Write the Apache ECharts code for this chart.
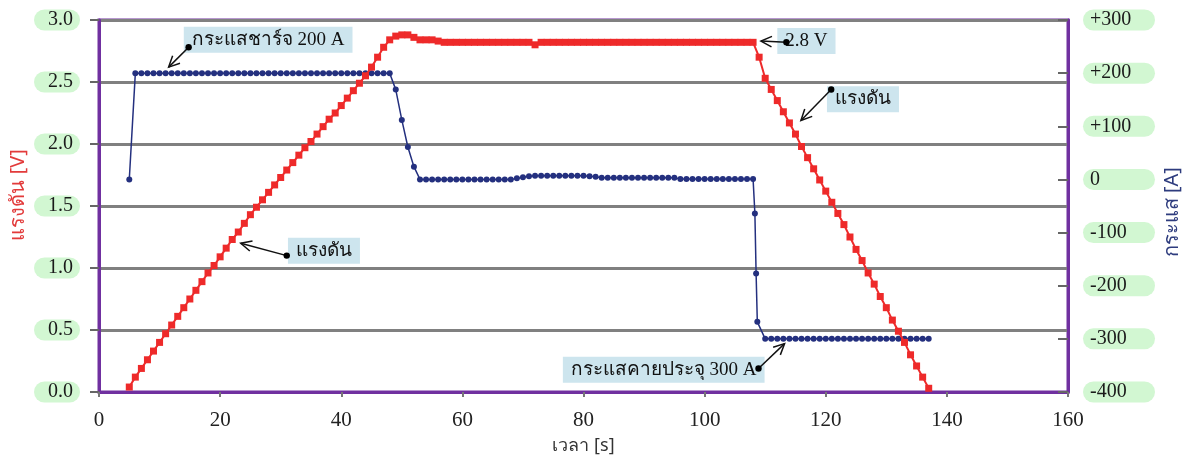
<!DOCTYPE html>
<html><head><meta charset="utf-8">
<script src="https://cdn.jsdelivr.net/npm/echarts@6/dist/echarts.min.js"></script>
<style>html,body{margin:0;padding:0;background:#fff}#c{width:1187px;height:459px}</style>
</head><body><div id="c"></div>
<script>
// ---------------- DATA ----------------
const voltTime = [5,6,7,8,9,10,11,12,13,14,15,16,17,18,19,20,21,22,23,24,25,26,27,28,29,30,31,32,33,34,35,36,37,38,39,40,41,42,43,44,45,46,47,48,49,50,51,52,53,54,55,56,57,58,59,60,61,62,63,64,65,66,67,68,69,70,71,72,73,74,75,76,77,78,79,80,81,82,83,84,85,86,87,88,89,90,91,92,93,94,95,96,97,98,99,100,101,102,103,104,105,106,107,108,109,110,111,112,113,114,115,116,117,118,119,120,121,122,123,124,125,126,127,128,129,130,131,132,133,134,135,136,137];
const voltage = [0.04,0.12,0.19,0.26,0.33,0.40,0.47,0.54,0.61,0.68,0.75,0.82,0.89,0.96,1.02,1.09,1.16,1.23,1.29,1.36,1.43,1.49,1.55,1.61,1.67,1.73,1.79,1.85,1.91,1.97,2.02,2.08,2.14,2.20,2.25,2.31,2.37,2.43,2.49,2.55,2.62,2.70,2.78,2.84,2.87,2.88,2.88,2.86,2.84,2.84,2.84,2.83,
2.82,2.82,2.82,2.82,2.82,2.82,2.82,2.82,2.82,2.82,2.82,2.82,2.82,2.82,2.82,
2.80,
2.82,2.82,2.82,2.82,2.82,2.82,2.82,2.82,2.82,2.82,2.82,2.82,2.82,2.82,2.82,2.82,2.82,2.82,2.82,2.82,2.82,2.82,2.82,2.82,2.82,2.82,2.82,2.82,2.82,2.82,2.82,2.82,2.82,2.82,2.82,2.82,
2.70,2.53,2.44,2.35,2.26,2.17,2.08,1.98,1.89,1.80,1.71,1.62,1.53,1.44,1.35,1.25,1.15,1.06,0.96,0.87,0.77,0.68,0.58,0.49,0.40,0.30,0.21,0.12,0.03];

const currTime = [5,6,7,8,9,10,11,12,13,14,15,16,17,18,19,20,21,22,23,24,25,26,27,28,29,30,31,32,33,34,35,36,37,38,39,40,41,42,43,44,45,46,47,48,49,50,51,52,53,54,55,56,57,58,59,60,61,62,63,64,65,66,67,68,69,70,71,72,73,74,75,76,77,78,79,80,81,82,83,84,85,86,87,88,89,90,91,92,93,94,95,96,97,98,99,100,101,102,103,104,105,106,107,108,108.3,108.5,108.7,110,111,112,113,114,115,116,117,118,119,120,121,122,123,124,125,126,127,128,129,130,131,132,133,134,135,136,137];
const current = [0,
200,200,200,200,200,200,200,200,200,200,200,200,200,200,200,200,200,200,200,200,200,200,200,200,200,200,200,200,200,200,200,200,200,200,200,200,200,200,200,200,200,200,200,
169,112,61,24,
0,0,0,0,0,0,0,0,0,0,0,0,0,0,0,0,
2,4,6,7,7,7,7,7,7,7,7,7,6,5,
3,3,3,3,3,3,3,3,3,3,3,3,3,
1,1,1,1,1,1,1,1,1,1,1,1,1,
-64,-177,-268,
-300,-300,-300,-300,-300,-300,-300,-300,-300,-300,-300,-300,-300,-300,-300,-300,-300,-300,-300,-300,-300,-300,-300,-300,-300,-300,-300,-300];

const voltTickLabels = ['0.0','0.5','1.0','1.5','2.0','2.5','3.0'];
const currTickLabels = ['-400','-300','-200','-100','0','+100','+200','+300'];
const timeTickLabels = ['0','20','40','60','80','100','120','140','160'];

const voltAxisName = 'แรงดัน [V]';
const currAxisName = 'กระแส [A]';
const timeAxisName = 'เวลา [s]';
const annoText = ['กระแสชาร์จ 200 A','แรงดัน','2.8 V','แรงดัน','กระแสคายประจุ 300 A'];

// ---------------- LAYOUT / ANNOTATION PLACEMENT (data coords) ----------------
const annoBox = [[14.0,2.84,'left'],[31.2,1.14,'left'],[112.0,2.83,'left'],[120.2,2.36,'left'],[109.9,0.18,'right']];
const annoDot = [[14.8,2.78],[31.0,1.10],[113.5,2.82],[120.9,2.44],[108.9,0.19]];
const annoTip = [[11.5,2.62],[23.4,1.20],[109.3,2.83],[115.9,2.19],[113.2,0.39]];

const voltData = voltTime.map((t,i)=>[t, voltage[i]]);
const currData = currTime.map((t,i)=>[t, current[i]]);

const PURPLE = '#7030A0';
const serif = '"Liberation Serif","DejaVu Serif",serif';
const sans = '"Noto Sans","DejaVu Sans",sans-serif';
const pill = {
  fontFamily: serif, fontSize: 20, color: '#1a1a1a',
  backgroundColor: '#D2F7D2', borderRadius: 11
};

const chart = echarts.init(document.getElementById('c'), null, {renderer:'canvas'});
chart.setOption({
  animation: false,
  backgroundColor: '#fff',
  grid: {left: 99, right: 119, top: 20, bottom: 67, containLabel: false, outerBoundsMode: 'none',
    show: true, borderColor: PURPLE, borderWidth: 3, backgroundColor: 'transparent'},
  xAxis: {
    type: 'value', min: 0, max: 160, interval: 20,
    axisLine: {show: true, lineStyle: {color: PURPLE, width: 3}},
    axisTick: {show: true, length: 5, lineStyle: {color: '#777', width: 2}},
    splitLine: {show: false},
    axisLabel: {margin: 18, fontFamily: serif, fontSize: 21, color: '#222',
      formatter: v => timeTickLabels[Math.round(v/20)]},
    name: timeAxisName, nameLocation: 'middle', nameGap: 45,
    nameTextStyle: {fontSize: 18, color: '#333', fontFamily: sans}
  },
  yAxis: [{
    type: 'value', min: 0, max: 3, interval: 0.5, position: 'left',
    axisLine: {show: true, lineStyle: {color: PURPLE, width: 3}},
    axisTick: {show: true, length: 9, lineStyle: {color: '#666', width: 2}},
    splitLine: {show: true, lineStyle: {color: '#808080', width: 3}},
    axisLabel: Object.assign({}, pill, {margin: 19, padding: [1, 7, 0, 14], align: 'right',
      formatter: v => voltTickLabels[Math.round(v/0.5)]})
  }, {
    type: 'value', min: -400, max: 300, interval: 100, position: 'right',
    axisLine: {show: true, lineStyle: {color: PURPLE, width: 3}},
    axisTick: {show: true, inside: true, length: 10, lineStyle: {color: '#666', width: 2}},
    splitLine: {show: false},
    axisLabel: Object.assign({}, pill, {margin: 15, padding: [1, 7, 0, 7], width: 58, align: 'left',
      formatter: v => currTickLabels[Math.round((v+400)/100)]})
  }],
  series: [{
    name: 'current', type: 'line', yAxisIndex: 1, data: currData,
    symbol: 'circle', symbolSize: 6, showSymbol: true, showAllSymbol: true,
    itemStyle: {color: '#24307F'}, lineStyle: {color: '#24307F', width: 1.5}, z: 2
  }, {
    name: 'voltage', type: 'line', yAxisIndex: 0, data: voltData,
    symbol: 'rect', symbolSize: 7, showSymbol: true, showAllSymbol: true,
    itemStyle: {color: '#EE2A2A'}, lineStyle: {color: '#EE2A2A', width: 2}, z: 3
  }]
});

function px(p){ return chart.convertToPixel({xAxisIndex:0, yAxisIndex:0}, p); }
const g = [];
// rotated y-axis titles, placed relative to the plot edges
const leftEdge = px([0, 0])[0], rightEdge = px([160, 0])[0];
g.push({type:'text', x: leftEdge - 81, y: px([0, 1.59])[1], rotation: Math.PI/2, z: 50, style: {
  text: voltAxisName, fill: '#E23B3B', font: '20px ' + sans,
  align: 'center', textAlign: 'center', verticalAlign: 'middle', textVerticalAlign: 'middle'}});
g.push({type:'text', x: rightEdge + 104, y: px([0, 1.45])[1], rotation: Math.PI/2, z: 50, style: {
  text: currAxisName, fill: '#2E3C7E', font: '20px ' + sans,
  align: 'center', textAlign: 'center', verticalAlign: 'middle', textVerticalAlign: 'middle'}});

annoText.forEach((txt, i) => {
  const b = px([annoBox[i][0], annoBox[i][1]]);
  const d = px(annoDot[i]);
  const t = px(annoTip[i]);
  const al = annoBox[i][2];
  g.push({type:'text', x: b[0], y: b[1], z: 100, style: {
    text: txt, fill: '#111', font: '19px ' + serif,
    backgroundColor: '#CDE5EE', padding: [4, 8, 3, 8],
    align: al, textAlign: al, verticalAlign: 'middle', textVerticalAlign: 'middle'
  }});
  g.push({type:'line', z: 101, shape: {x1: d[0], y1: d[1], x2: t[0], y2: t[1]}, style: {stroke: '#111', lineWidth: 1.5}});
  const ang = Math.atan2(d[1]-t[1], d[0]-t[0]);
  const L = 12, A = 0.45;
  const a1 = [t[0] + L*Math.cos(ang+A), t[1] + L*Math.sin(ang+A)];
  const a2 = [t[0] + L*Math.cos(ang-A), t[1] + L*Math.sin(ang-A)];
  g.push({type:'polyline', z: 101, shape: {points: [a1, t, a2]}, style: {stroke: '#111', lineWidth: 1.5, fill: null}});
  g.push({type:'circle', z: 102, shape: {cx: d[0], cy: d[1], r: 3.2}, style: {fill: '#000'}});
});
chart.setOption({graphic: g});
</script>
</body></html>
